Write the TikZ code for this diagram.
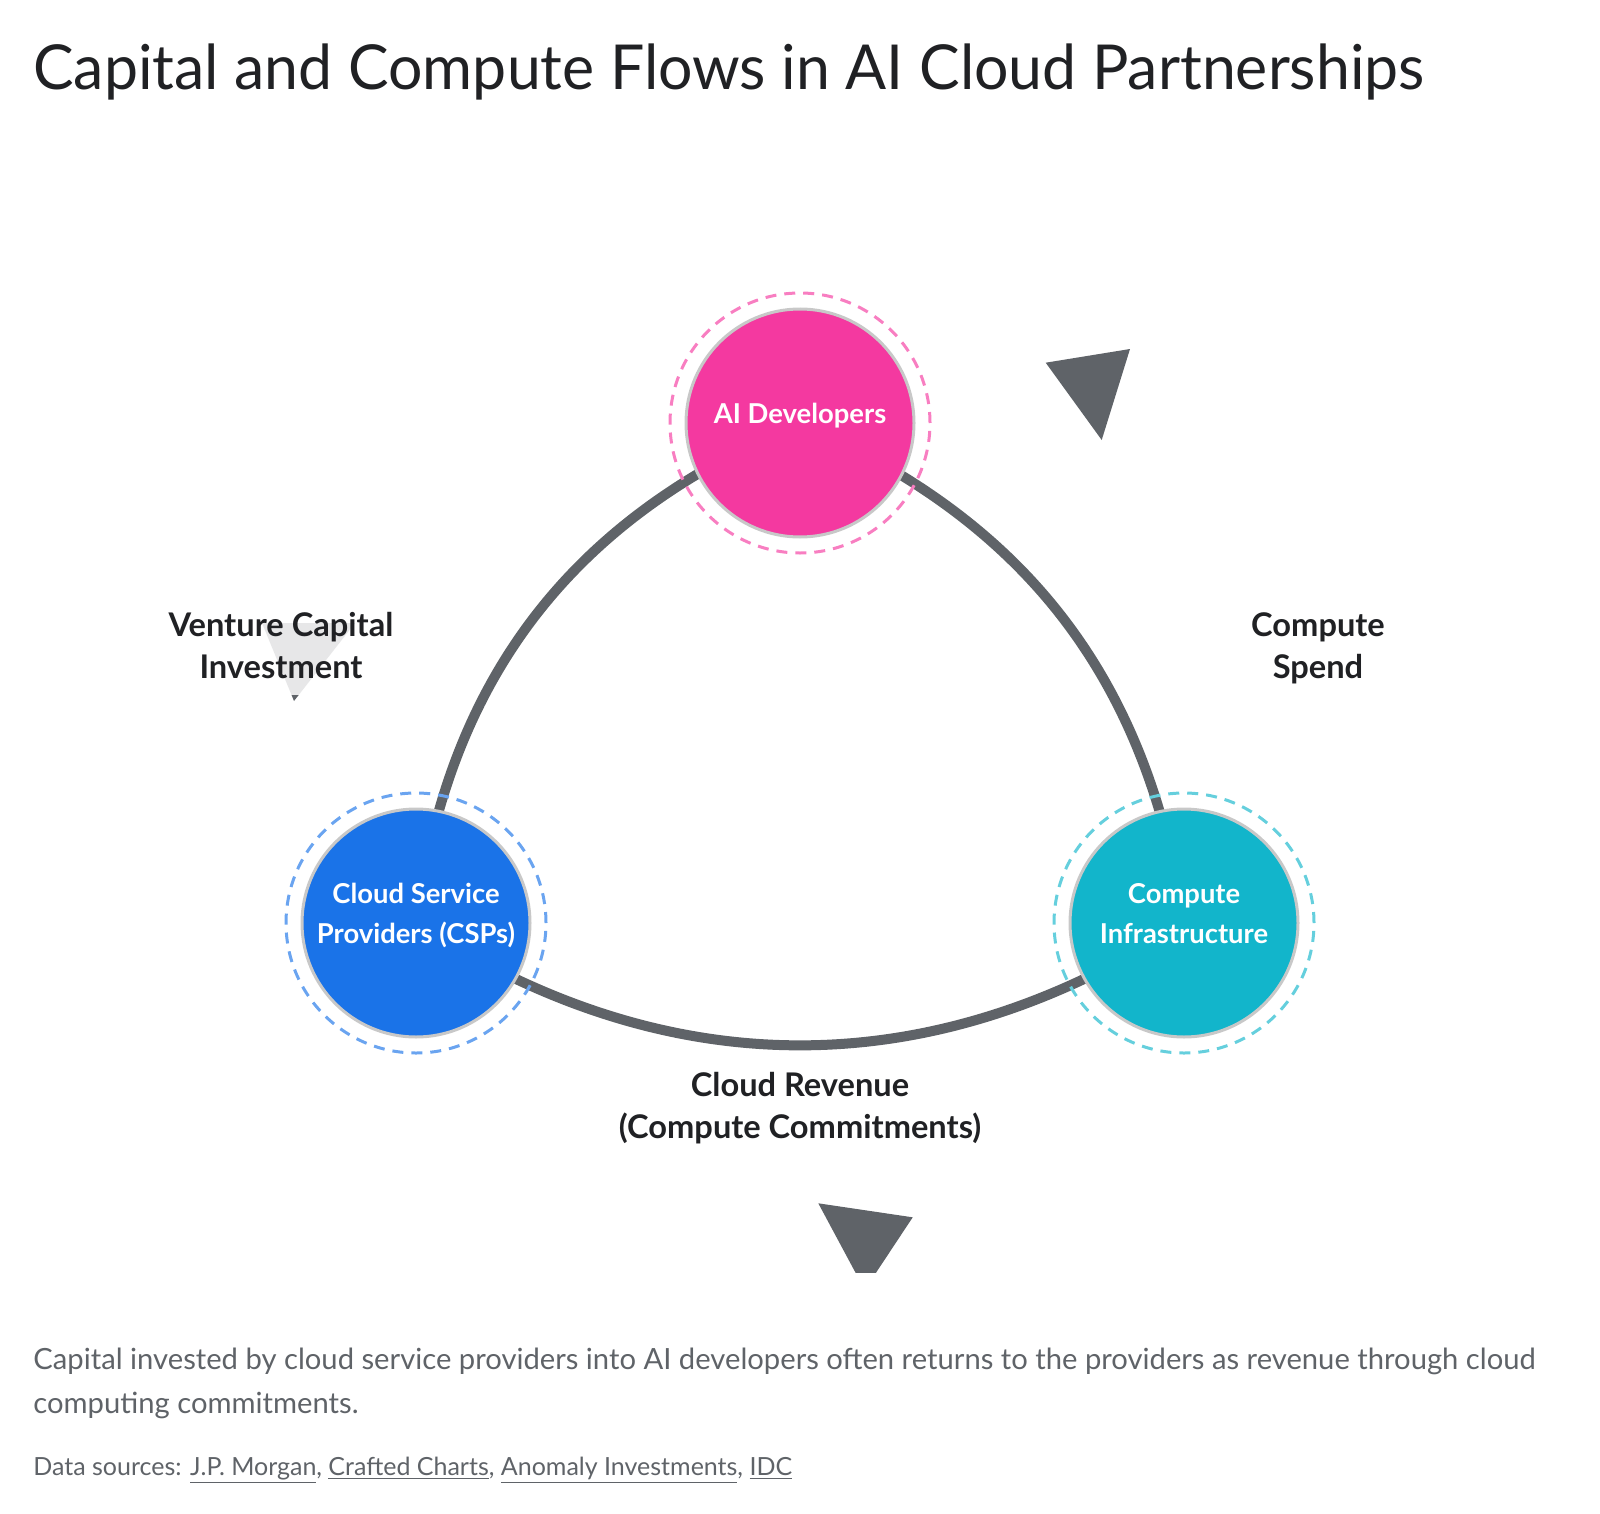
\documentclass[tikz,border=0pt]{standalone}
\usepackage{fontspec}
\setmainfont{Lato}
\newfontfamily\titlefont[FakeStretch=0.98]{Lato}
\usetikzlibrary{backgrounds}

\definecolor{inkgray}{HTML}{202124}
\definecolor{flowgray}{HTML}{5F6368}
\definecolor{aipink}{HTML}{F439A0}
\definecolor{cspblue}{HTML}{1A73E8}
\definecolor{infrateal}{HTML}{12B5CB}
\definecolor{rimgray}{HTML}{C8C8C8}

\tikzset{
  hub/.style={circle, minimum size=114pt, inner sep=0pt, draw=rimgray, line width=1.5pt, fill=#1},
  halo/.style={draw=#1!65, line width=1.5pt, dash pattern=on 5.5pt off 4pt},
  hubtext/.style={text=white, inner sep=0pt, align=center, font=\bfseries\fontsize{13.7}{20}\selectfont},
  flow/.style={draw=flowgray, line width=5pt},
  flowtext/.style={text=inkgray, inner sep=8pt, align=center, fill=white, fill opacity=0.85, text opacity=1,
    font=\bfseries\fontsize{16.3}{21}\selectfont},
  tip/.style={fill=flowgray},
}

\begin{document}
\begin{tikzpicture}[x=0.5pt, y=0.5pt]
    \useasboundingbox (0,0) rectangle (1600,-1514);

    % Title
    \node[anchor=base west, inner sep=0pt, text=inkgray, font=\titlefont\fontsize{31}{37}\selectfont] (title) at (33,-90)
        {Capital and Compute Flows in AI Cloud Partnerships};

    % The three hubs
    \node[hub=aipink] (ai) at (800,-423) {};
    \node[hub=cspblue] (csp) at (416,-923) {};
    \node[hub=infrateal] (infra) at (1184,-923) {};

    % Dashed halos round the hubs
    \draw[halo=aipink] (ai.center) circle[radius=65pt];
    \draw[halo=cspblue] (csp.center) circle[radius=65pt];
    \draw[halo=infrateal] (infra.center) circle[radius=65pt];

    % Flows between the hubs, under everything else
    \begin{pgfonlayer}{background}
        \draw[flow] (csp.center) to[bend left=30] (ai.center);
        \draw[flow] (ai.center) to[bend left=29] (infra.center);
        \draw[flow] (infra.center) to[bend left=33] (csp.center);
    \end{pgfonlayer}

    % Arrow tips as they are drawn
    \fill[tip] (1045.7,-362.7) -- (1130,-349) -- (1101.7,-440) -- cycle;
    \fill[tip] (262,-623) -- (355,-623) -- (294,-701) -- cycle;
    \begin{scope}
        \clip (0,0) rectangle (1600,-1272);
        \fill[tip] (818.3,-1203.3) -- (912.7,-1217.3) -- (864.7,-1289.8) -- cycle;
    \end{scope}

    % Hub labels (base = last line)
    \node[hubtext, anchor=base] (aitext) at (ai.center) {AI Developers};
    \node[hubtext, anchor=base] (csptext) at ([yshift=-10pt]csp.center) {Cloud Service\\Providers (CSPs)};
    \node[hubtext, anchor=base] (infratext) at ([yshift=-10pt]infra.center) {Compute\\Infrastructure};

    % Flow labels
    \node[flowtext, anchor=base] (vclabel) at (281,-678.3) {Venture Capital\\Investment};
    \node[flowtext, anchor=base] (spendlabel) at (1318,-678.3) {Compute\\Spend};
    \node[flowtext, anchor=base] (revlabel) at (800,-1138) {Cloud Revenue\\(Compute Commitments)};

    % Caption and sources
    \node[anchor=base west, inner sep=0pt, align=left, text=flowgray, font=\fontsize{14.6}{22}\selectfont] (caption) at (33,-1413)
        {Capital invested by cloud service providers into AI developers often returns to the providers as revenue through cloud\\computing commitments.};
    \node[anchor=base west, inner sep=0pt, text=flowgray, font=\fontsize{12.5}{15}\selectfont] (sources) at (33,-1475)
        {Data sources: \underline{J.P. Morgan}, \underline{Crafted Charts}, \underline{Anomaly Investments}, \underline{IDC}};
\end{tikzpicture}
\end{document}
